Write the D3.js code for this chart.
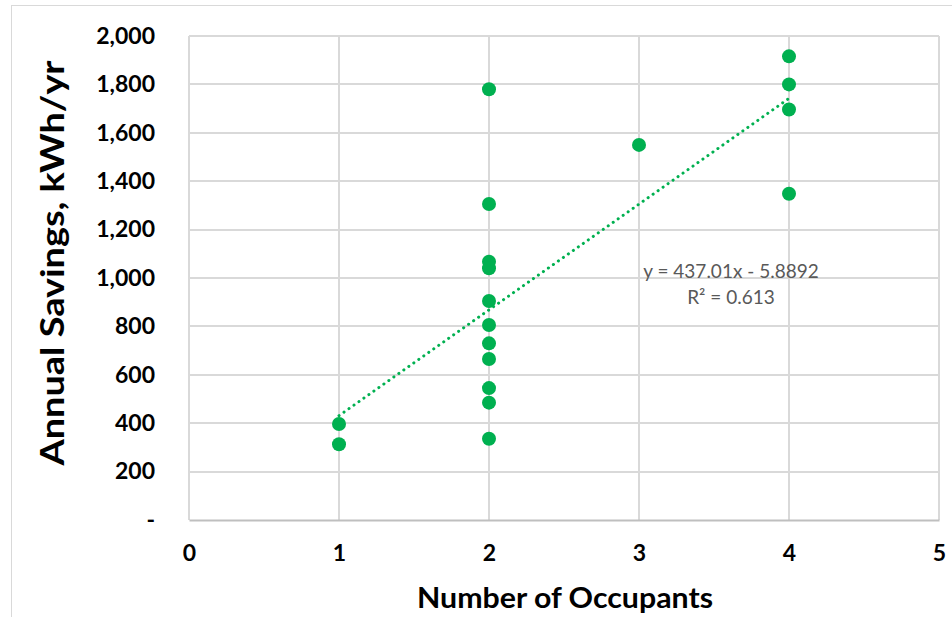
<!DOCTYPE html>
<html>
<head>
<meta charset="utf-8">
<script src="https://cdn.jsdelivr.net/npm/d3@7"></script>
<style>
  body { margin: 0; background: #fff; }
  svg { display: block; font-family: Lato, "Open Sans", sans-serif; }
</style>
</head>
<body>
<script>
// chart data
var occupants = [1, 1, 2, 2, 2, 2, 2, 2, 2, 2, 2, 2, 2, 3, 4, 4, 4, 4];
var savings = [397, 313, 1780, 1306, 1067, 1040, 905, 806, 730, 665, 545, 485, 336, 1550, 1916, 1800, 1696, 1348];
var xTicks = [0, 1, 2, 3, 4, 5];
var yTicks = [0, 200, 400, 600, 800, 1000, 1200, 1400, 1600, 1800, 2000];
var trendSlope = 437.01, trendIntercept = -5.8892;
var trendText = ["y = 437.01x - 5.8892", "R\u00b2 = 0.613"];

var w = 952, h = 617;
var plotLeft = 189, plotRight = 939, plotTop = 36, plotBottom = 520;

var svg = d3.select("body").append("svg")
    .attr("width", w)
    .attr("height", h);

// outer chart border
svg.append("rect")
    .attr("x", 11.5).attr("y", 5.5)
    .attr("width", 960).attr("height", 640)
    .attr("fill", "none")
    .attr("stroke", "#d9d9d9");

var x = d3.scaleLinear().domain([0, 5]).range([plotLeft, plotRight]);
var y = d3.scaleLinear().domain([0, 2000]).range([plotBottom, plotTop]);

// gridlines
svg.append("g").selectAll("line")
    .data(yTicks.slice(1))
    .enter().append("line")
    .attr("x1", plotLeft).attr("x2", plotRight)
    .attr("y1", function(d){ return Math.round(y(d)); })
    .attr("y2", function(d){ return Math.round(y(d)); })
    .attr("stroke", "#d9d9d9").attr("stroke-width", 2);

svg.append("g").selectAll("line")
    .data(xTicks)
    .enter().append("line")
    .attr("y1", plotTop).attr("y2", plotBottom)
    .attr("x1", function(d){ return Math.round(x(d)); })
    .attr("x2", function(d){ return Math.round(x(d)); })
    .attr("stroke", "#d9d9d9").attr("stroke-width", 2);

// bottom axis
var xAxis = d3.axisBottom(x).tickValues(xTicks).tickSize(0).tickPadding(25)
    .tickFormat(d3.format("d"));
var gx = svg.append("g")
    .attr("transform", "translate(0," + plotBottom + ")")
    .call(xAxis);
gx.select(".domain").attr("stroke", "#bfbfbf").attr("stroke-width", 2);
gx.selectAll("text")
    .attr("font-family", "Lato, sans-serif")
    .attr("font-size", 23).attr("font-weight", "bold").attr("fill", "#000");

// left axis
var yAxis = d3.axisLeft(y).tickValues(yTicks).tickSize(0).tickPadding(34)
    .tickFormat(function(d){ return d === 0 ? "-" : d3.format(",")(d); });
var gy = svg.append("g")
    .attr("transform", "translate(" + plotLeft + ",0)")
    .call(yAxis);
gy.select(".domain").remove();
gy.selectAll("text")
    .attr("font-family", "Lato, sans-serif")
    .attr("font-size", 23).attr("font-weight", "bold").attr("fill", "#000");

// trendline
svg.append("line")
    .attr("x1", x(1)).attr("y1", y(trendSlope * 1 + trendIntercept))
    .attr("x2", x(4)).attr("y2", y(trendSlope * 4 + trendIntercept))
    .attr("stroke", "#00b050")
    .attr("stroke-width", 3)
    .attr("stroke-linecap", "round")
    .attr("stroke-dasharray", "0.1 6");

// points
svg.append("g").selectAll("circle")
    .data(occupants)
    .enter().append("circle")
    .attr("cx", function(d){ return x(d); })
    .attr("cy", function(d, i){ return y(savings[i]); })
    .attr("r", 7)
    .attr("fill", "#00b050");

// trendline label
svg.append("g").selectAll("text")
    .data(trendText)
    .enter().append("text")
    .attr("x", 731)
    .attr("y", function(d, i){ return 278 + i * 26; })
    .attr("text-anchor", "middle")
    .attr("font-family", "Lato, sans-serif")
    .attr("font-size", 19)
    .attr("fill", "#595959")
    .text(function(d){ return d; });

// axis titles
svg.append("text")
    .attr("x", 565).attr("y", 608)
    .attr("text-anchor", "middle")
    .attr("font-size", 29).attr("font-weight", "bold")
    .attr("textLength", 296).attr("lengthAdjust", "spacingAndGlyphs")
    .text("Number of Occupants");

svg.append("text")
    .attr("transform", "translate(64,263) rotate(-90)")
    .attr("text-anchor", "middle")
    .attr("font-size", 32).attr("font-weight", "bold")
    .attr("textLength", 405).attr("lengthAdjust", "spacingAndGlyphs")
    .text("Annual Savings, kWh/yr");
</script>
</body>
</html>
